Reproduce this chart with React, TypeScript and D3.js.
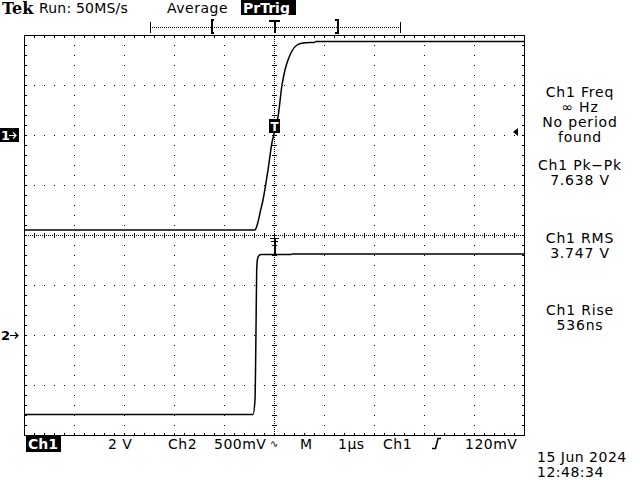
import React from "react";
import * as d3 from "d3";

// ---- data (time in µs, volts) ----
const CH1_T = [-5, -0.38, -0.35, -0.32, -0.28, -0.22, -0.12, -0.04, 0.02, 0.08, 0.16, 0.22, 0.28, 0.36, 0.46, 0.58, 0.72, 0.8, 0.84, 5];
const CH1_V = [-3.8, -3.8, -3.68, -3.48, -3.12, -2.6, -1.4, -0.3, 0.2, 0.72, 2.0, 2.6, 3.0, 3.36, 3.6, 3.68, 3.7, 3.7, 3.74, 3.74];
const CH2_T = [-5, -0.42, -0.38, -0.36, -0.346, -0.33, -0.3, -0.26, 0.34, 0.36, 5];
const CH2_V = [-0.795, -0.795, -0.65, 0.05, 0.65, 0.76, 0.795, 0.805, 0.805, 0.81, 0.81];

const CH1_VOLTS_PER_DIV = 2;
const CH2_VOLTS_PER_DIV = 0.5;
const CH1_POS_DIV = 2;
const CH2_POS_DIV = -2;
const TIME_PER_DIV = 1;
const TRIG_LEVEL = 0.12;

const MEAS_LINES = ["Ch1 Freq", "∞ Hz", "No period", "found", "Ch1 Pk−Pk", "7.638 V", "Ch1 RMS", "3.747 V", "Ch1 Rise", "536ns"];
const MEAS_BASE = [97, 112, 127, 142, 170, 185, 243, 258, 315, 330];

const BOTTOM_LABELS = ["2 V", "Ch2", "500mV", "M", "1µs", "Ch1", "120mV"];
const BOTTOM_X = [108, 168, 214, 300, 338, 383, 465];

const W = 640, H = 480;
const X0 = 24, X1 = 524, Y0 = 35, Y1 = 435;
const FONT = "DejaVu Sans, Verdana, sans-serif";

export default function App() {
  const x = d3.scaleLinear().domain([-5 * TIME_PER_DIV, 5 * TIME_PER_DIV]).range([X0, X1]);
  const yDiv = d3.scaleLinear().domain([-4, 4]).range([Y1, Y0]);
  const y1 = (v: number) => yDiv(v / CH1_VOLTS_PER_DIV + CH1_POS_DIV);
  const y2 = (v: number) => yDiv(v / CH2_VOLTS_PER_DIV + CH2_POS_DIV);

  const line1 = d3.line<number>().x((i) => x(CH1_T[i])).y((i) => y1(CH1_V[i])).curve(d3.curveMonotoneX);
  const line2 = d3.line<number>().x((i) => x(CH2_T[i])).y((i) => y2(CH2_V[i])).curve(d3.curveMonotoneX);

  const xDivs = d3.range(-5, 6).map((d) => x(d * TIME_PER_DIV));
  const yDivs = d3.range(-4, 5).map((d) => yDiv(d));
  const xMinor = d3.range(X0, X1 + 1, 10);
  const yMinor = d3.range(Y0, Y1 + 1, 10);
  const cx = x(0), cy = yDiv(0);

  const g1 = y1(0), g2 = y2(0);
  const trigY = y1(TRIG_LEVEL);

  return (
    <svg width={W} height={H} style={{ position: "absolute", left: 0, top: 0, background: "#fff" }} fontFamily={FONT}>
      <rect x={0} y={0} width={W} height={H} fill="#fff" />
      {/* graticule */}
      <g shapeRendering="crispEdges" stroke="#000">
        {xDivs.slice(1, -1).filter((v) => v !== cx).map((v, i) => (
          <line key={"vx" + i} x1={v + 0.5} x2={v + 0.5} y1={Y0} y2={Y1} strokeWidth={1} strokeDasharray="1 9" />
        ))}
        {yDivs.slice(1, -1).filter((v) => v !== cy).map((v, i) => (
          <line key={"hy" + i} y1={v + 0.5} y2={v + 0.5} x1={X0} x2={X1} strokeWidth={1} strokeDasharray="1 9" />
        ))}
        {/* center cross */}
        <line x1={cx + 0.5} x2={cx + 0.5} y1={Y0} y2={Y1} strokeDasharray="1 1" />
        <line y1={cy + 0.5} y2={cy + 0.5} x1={X0} x2={X1} strokeDasharray="1 1" />
        {yMinor.map((v, i) => (
          <line key={"cyt" + i} x1={cx - 2} x2={cx + 3} y1={v + 0.5} y2={v + 0.5} />
        ))}
        {xMinor.map((v, i) => (
          <line key={"cxt" + i} x1={v + 0.5} x2={v + 0.5} y1={cy - 2} y2={cy + 3} />
        ))}
        {/* frame ticks */}
        {xMinor.map((v, i) => (
          <g key={"ft" + i}>
            <line x1={v + 0.5} x2={v + 0.5} y1={Y0} y2={Y0 + 3} />
            <line x1={v + 0.5} x2={v + 0.5} y1={Y1 - 2} y2={Y1} />
          </g>
        ))}
        {yMinor.map((v, i) => (
          <g key={"fl" + i}>
            <line x1={X0} x2={X0 + 3} y1={v + 0.5} y2={v + 0.5} />
            <line x1={X1 - 2} x2={X1} y1={v + 0.5} y2={v + 0.5} />
          </g>
        ))}
        <rect x={X0 + 0.5} y={Y0 + 0.5} width={X1 - X0} height={Y1 - Y0} fill="none" strokeWidth={1} />
      </g>

      {/* traces */}
      <path d={line1(d3.range(CH1_T.length)) || ""} fill="none" stroke="#000" strokeWidth={1.5} />
      <path d={line2(d3.range(CH2_T.length)) || ""} fill="none" stroke="#000" strokeWidth={1.5} />

      {/* trigger point markers */}
      <rect x={cx - 5} y={trigY - 13} width={11} height={14} fill="#000" />
      <text x={cx + 0.5} y={trigY - 1} fontSize={12} fill="#fff" textAnchor="middle" fontWeight="bold">T</text>
      <g stroke="#000" shapeRendering="crispEdges">
        <line x1={cx - 4} x2={cx + 5} y1={y2(0.97) + 0.5} y2={y2(0.97) + 0.5} />
        <line x1={cx - 3} x2={cx + 4} y1={y2(0.94) + 0.5} y2={y2(0.94) + 0.5} />
        <line x1={cx + 0.5} x2={cx + 0.5} y1={y2(0.97)} y2={y2(0.8)} strokeWidth={2} />
      </g>

      {/* channel ground markers */}
      <rect x={0} y={g1 - 7} width={19} height={14} fill="#000" />
      <text x={1} y={g1 + 5} fontSize={13} fill="#fff" fontWeight="bold">1</text>
      <path d={`M9,${g1 + 0.5}H16M13,${g1 - 2.5}L16,${g1 + 0.5}L13,${g1 + 3.5}`} stroke="#fff" fill="none" strokeWidth={1.2} />
      <text x={1} y={g2 + 5} fontSize={13} fill="#000" fontWeight="bold">2</text>
      <path d={`M10,${g2 + 0.5}H18M15,${g2 - 2.5}L18,${g2 + 0.5}L15,${g2 + 3.5}`} stroke="#000" fill="none" strokeWidth={1.2} />
      {/* trigger level arrow */}
      <path d={`M513,${trigY}L518,${trigY - 4}L518,${trigY + 4}Z`} fill="#000" />

      {/* header */}
      <text x={2} y={14} fontFamily="DejaVu Serif, serif" fontWeight="bold" fontSize={16} fill="#000">Tek</text>
      <text x={39} y={13} fontSize={14} fill="#000" letterSpacing={0.2}>Run: 50MS/s</text>
      <text x={167} y={13} fontSize={14} fill="#000" letterSpacing={0.5}>Average</text>
      <rect x={241} y={0} width={55} height={15} fill="#000" />
      <text x={243} y={13} fontSize={14} fill="#fff" fontWeight="bold">PrTrig</text>
      {/* record bar */}
      <g stroke="#000" shapeRendering="crispEdges">
        <line x1={150} x2={400} y1={27.5} y2={27.5} strokeDasharray="1 1" />
        <line x1={150.5} x2={150.5} y1={22} y2={33} />
        <line x1={400.5} x2={400.5} y1={22} y2={33} />
        <path d="M214,19.5H211.5V32.5H214" fill="none" strokeWidth={2} />
        <path d="M335,19.5H337.5V32.5H335" fill="none" strokeWidth={2} />
        <path d={`M${cx - 5},20.5H${cx + 6}M${cx + 0.5},20V33`} fill="none" strokeWidth={2} />
      </g>

      {/* measurements */}
      {MEAS_LINES.map((t, i) => (
        <text key={"m" + i} x={580} y={MEAS_BASE[i]} fontSize={14} letterSpacing={0.8} textAnchor="middle" fill="#000">{t}</text>
      ))}

      {/* bottom status */}
      <rect x={26} y={436} width={35} height={16} fill="#000" />
      <text x={28} y={449} fontSize={14} fill="#fff" fontWeight="bold">Ch1</text>
      {BOTTOM_LABELS.map((t, i) => (
        <text key={"b" + i} x={BOTTOM_X[i]} y={449} fontSize={14} letterSpacing={0.5} fill="#000">{t}</text>
      ))}
      <text x={270} y={447} fontSize={10} fill="#000">∿</text>
      <path d="M432,448.5H435.5L438,438.5H441" stroke="#000" strokeWidth={1.6} fill="none" />
      <text x={537} y={462} fontSize={14} letterSpacing={0.5} fill="#000">15 Jun 2024</text>
      <text x={537} y={477} fontSize={14} letterSpacing={0.5} fill="#000">12:48:34</text>
    </svg>
  );
}
